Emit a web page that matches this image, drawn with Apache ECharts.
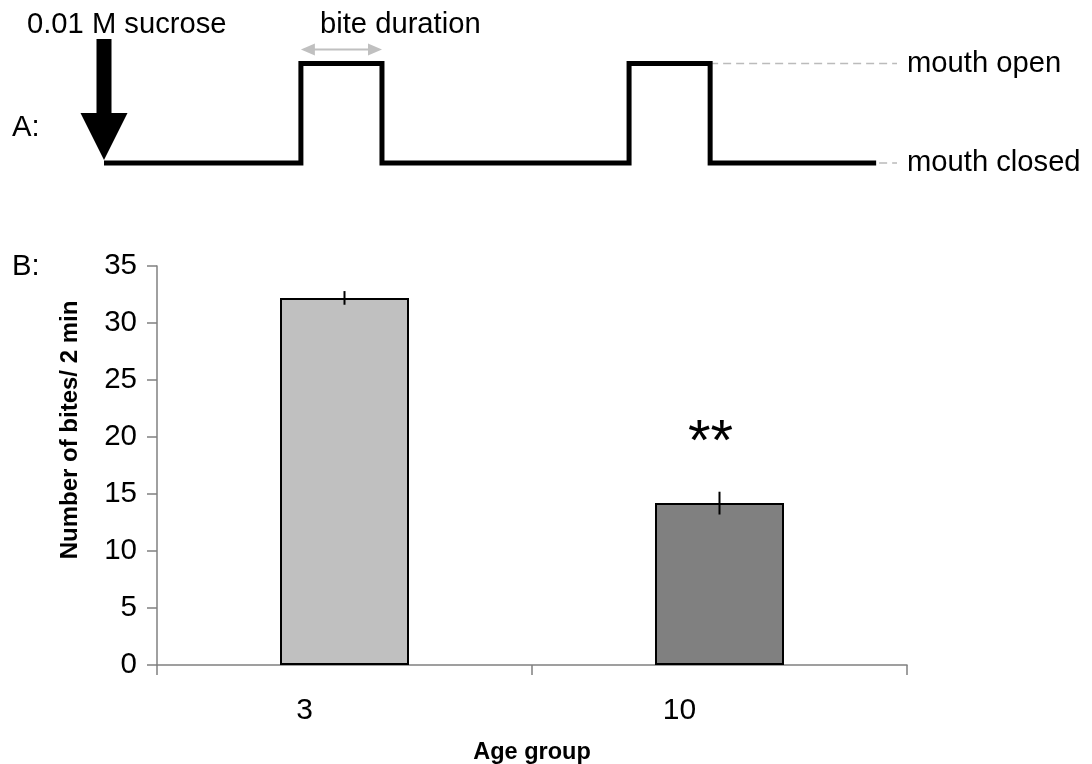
<!DOCTYPE html>
<html>
<head>
<meta charset="utf-8">
<script src="https://cdn.jsdelivr.net/npm/echarts@6/dist/echarts.min.js"></script>
<style>
  html, body { margin: 0; padding: 0; background: #fff; }
  #chart { width: 1092px; height: 764px; }
</style>
</head>
<body>
<div id="chart"></div>
<script>
// Panel B: bites per 2 min by age group (mean ± SEM)
const ageGroups = ['3', '10'];
const bitesMean = [32.2, 14.2];
const bitesSem = [0.6, 1.0];
const significance = ['', '**'];
const barColors = ['#c0c0c0', '#808080'];

// Panel A: schematic mouth trace (time in arbitrary units, state 0 = closed, 1 = open)
const stimulusTime = 0;
const biteOnsets = [2.55, 6.8];
const biteOffsets = [3.6, 7.85];
const traceEnd = 10;
const guideEnd = 10.27;
const stateNames = ['mouth closed', 'mouth open'];

const FONT = '"Liberation Sans", Arial, sans-serif';
const TEXT_SIZE = 29.2;

// step trace built from bite onsets/offsets
const trace = [[stimulusTime, 0]];
biteOnsets.forEach((on, i) => {
  trace.push([on, 0], [on, 1], [biteOffsets[i], 1], [biteOffsets[i], 0]);
});
trace.push([traceEnd, 0]);
const lastOffset = biteOffsets[biteOffsets.length - 1];

const chart = echarts.init(document.getElementById('chart'), null, { renderer: 'canvas' });

const option = {
  animation: false,
  backgroundColor: '#ffffff',
  textStyle: { fontFamily: FONT },
  grid: [
    { left: 157, right: 185, top: 266, bottom: 99, containLabel: false, outerBoundsMode: 'none' },
    { left: 104, right: 195, top: 63.5, bottom: 601, containLabel: false, outerBoundsMode: 'none' }
  ],
  xAxis: [
    {
      type: 'category', gridIndex: 0, data: ageGroups,
      axisLine: { lineStyle: { color: '#808080', width: 1.5 } },
      axisTick: { show: true, length: 10, alignWithLabel: false, lineStyle: { color: '#808080', width: 1.5 } },
      axisLabel: { color: '#000', fontSize: 30, fontFamily: FONT, margin: 31, padding: [0, 80, 0, 0] },
      name: 'Age group', nameLocation: 'middle', nameGap: 76,
      nameTextStyle: { color: '#000', fontSize: 23.5, fontWeight: 'bold', fontFamily: FONT }
    },
    { type: 'value', gridIndex: 1, min: 0, max: guideEnd, show: false }
  ],
  yAxis: [
    {
      type: 'value', gridIndex: 0, min: 0, max: 35, interval: 5,
      axisLine: { show: true, lineStyle: { color: '#808080', width: 1.5 } },
      axisTick: { show: true, length: 10, lineStyle: { color: '#808080', width: 1.5 } },
      splitLine: { show: false },
      axisLabel: { color: '#000', fontSize: 29.5, fontFamily: FONT, margin: 20 }
    },
    { type: 'value', gridIndex: 1, min: 0, max: 1, show: false }
  ],
  series: [
    {
      type: 'bar', xAxisIndex: 0, yAxisIndex: 0, barWidth: 129,
      data: bitesMean.map((v, i) => ({
        value: v,
        itemStyle: { color: barColors[i], borderColor: '#000', borderWidth: 2 }
      })),
      z: 2
    },
    {
      // error bars and significance marks
      type: 'custom', xAxisIndex: 0, yAxisIndex: 0,
      data: bitesMean.map((v, i) => [i, v, bitesSem[i]]),
      renderItem: function (params, api) {
        const x = api.value(0), m = api.value(1), e = api.value(2);
        const sig = significance[params.dataIndex];
        const hi = api.coord([x, m + e]);
        const lo = api.coord([x, m - e]);
        const children = [{
          type: 'line',
          shape: { x1: hi[0], y1: hi[1], x2: lo[0], y2: lo[1] },
          style: { stroke: '#000', lineWidth: 2 }
        }];
        if (sig) {
          children.push({
            type: 'text',
            x: hi[0] - 9, y: hi[1] - 48,
            style: {
              text: sig, fill: '#000', fontSize: 58, fontFamily: FONT,
              align: 'center', verticalAlign: 'middle'
            }
          });
        }
        return { type: 'group', children: children };
      },
      z: 5
    },
    {
      // mouth trace
      type: 'line', xAxisIndex: 1, yAxisIndex: 1, data: trace,
      showSymbol: false, symbol: 'none', clip: false,
      lineStyle: { color: '#000', width: 5, join: 'miter', cap: 'butt' },
      z: 4
    },
    {
      type: 'line', xAxisIndex: 1, yAxisIndex: 1,
      data: [[lastOffset, 1], [guideEnd, 1]],
      showSymbol: false, symbol: 'none', clip: false,
      lineStyle: { color: '#bbbbbb', width: 1.5, type: [8, 5] },
      endLabel: { show: true, formatter: stateNames[1], color: '#000', fontSize: TEXT_SIZE, fontFamily: FONT, distance: 10 },
      z: 2
    },
    {
      type: 'line', xAxisIndex: 1, yAxisIndex: 1,
      data: [[lastOffset, 0], [guideEnd, 0]],
      showSymbol: false, symbol: 'none', clip: false,
      lineStyle: { color: '#bbbbbb', width: 1.5, type: [8, 5] },
      endLabel: { show: true, formatter: stateNames[0], color: '#000', fontSize: TEXT_SIZE, fontFamily: FONT, distance: 10 },
      z: 2
    },
    {
      // stimulus arrow
      type: 'custom', xAxisIndex: 1, yAxisIndex: 1, clip: false,
      data: [[stimulusTime, 0]],
      renderItem: function (params, api) {
        const p = api.coord([api.value(0), api.value(1)]);
        const tx = p[0], ty = p[1] - 3;
        const headH = 47, headW = 47, shaftW = 15, shaftH = 74;
        return {
          type: 'polygon',
          shape: {
            points: [
              [tx, ty],
              [tx - headW / 2, ty - headH],
              [tx - shaftW / 2, ty - headH],
              [tx - shaftW / 2, ty - headH - shaftH],
              [tx + shaftW / 2, ty - headH - shaftH],
              [tx + shaftW / 2, ty - headH],
              [tx + headW / 2, ty - headH]
            ]
          },
          style: { fill: '#000' }
        };
      },
      z: 6
    },
    {
      // bite duration double arrow
      type: 'custom', xAxisIndex: 1, yAxisIndex: 1, clip: false,
      data: [[biteOnsets[0], biteOffsets[0], 1]],
      renderItem: function (params, api) {
        const a = api.coord([api.value(0), api.value(2)]);
        const b = api.coord([api.value(1), api.value(2)]);
        const y = a[1] - 14;
        const x1 = a[0], x2 = b[0], hl = 14, hw = 6;
        const col = '#c0c0c0';
        return {
          type: 'group',
          children: [
            { type: 'line', shape: { x1: x1 + 4, y1: y, x2: x2 - 4, y2: y }, style: { stroke: col, lineWidth: 2 } },
            { type: 'polygon', shape: { points: [[x1, y], [x1 + hl, y - hw], [x1 + hl, y + hw]] }, style: { fill: col } },
            { type: 'polygon', shape: { points: [[x2, y], [x2 - hl, y - hw], [x2 - hl, y + hw]] }, style: { fill: col } }
          ]
        };
      },
      z: 3
    }
  ],
  graphic: [
    { type: 'text', left: 27, top: 10, style: { text: '0.01 M sucrose', fill: '#000', fontSize: TEXT_SIZE, fontFamily: FONT } },
    { type: 'text', left: 320, top: 10, style: { text: 'bite duration', fill: '#000', fontSize: TEXT_SIZE, fontFamily: FONT } },
    { type: 'text', left: 12, top: 113, style: { text: 'A:', fill: '#000', fontSize: TEXT_SIZE, fontFamily: FONT } },
    { type: 'text', left: 12, top: 252, style: { text: 'B:', fill: '#000', fontSize: TEXT_SIZE, fontFamily: FONT } },
    {
      type: 'text', x: 70, y: 430, rotation: Math.PI / 2,
      style: {
        text: 'Number of bites/ 2 min', fill: '#000', fontSize: 24, fontWeight: 'bold', fontFamily: FONT,
        align: 'center', verticalAlign: 'middle', textAlign: 'center', textVerticalAlign: 'middle'
      }
    }
  ]
};

chart.setOption(option);
</script>
</body>
</html>
